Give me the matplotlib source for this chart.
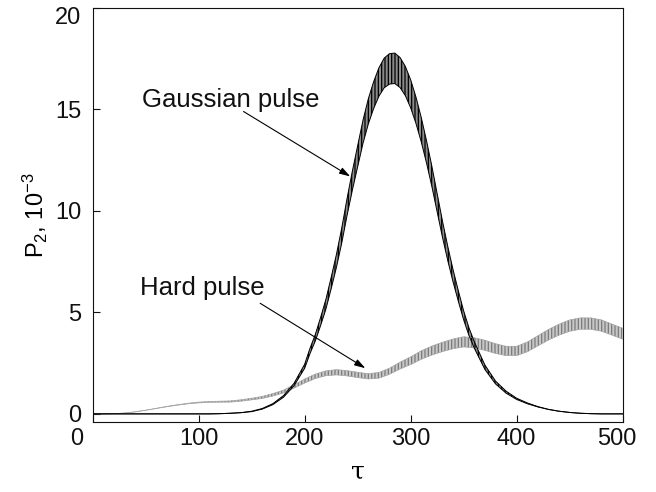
import numpy as np
import matplotlib
matplotlib.use("Agg")
import matplotlib.pyplot as plt
from matplotlib.transforms import ScaledTranslation

plt.rcParams['font.family'] = ['Liberation Sans', 'DejaVu Sans']
plt.rcParams['mathtext.fontset'] = 'custom'
plt.rcParams['mathtext.rm'] = 'Liberation Sans'
plt.rcParams['mathtext.it'] = 'Liberation Sans:italic'
plt.rcParams['mathtext.default'] = 'rm'
plt.rcParams['hatch.linewidth'] = 0.9

# Gaussian pulse: centre of the fast oscillation and its half swing (units of 1e-3)
gauss_tau = [0, 50, 100, 110, 120, 130, 140, 150, 160, 170, 180, 190,
             200, 205, 210, 215, 220, 225, 230, 235, 240, 245, 250, 255,
             260, 265, 270, 275, 280, 285, 290, 295, 300, 305, 310, 315,
             320, 325, 330, 335, 340, 345, 350, 355, 360,
             370, 380, 390, 400, 410, 420, 430, 440, 450, 460, 470, 480, 490, 500]
gauss_mean = [0, 0, 0, 0, 0.01, 0.03, 0.06, 0.12, 0.25, 0.48, 0.86, 1.45,
              2.35, 3.1, 3.75, 4.55, 5.4, 6.45, 7.55, 8.8, 10.2, 11.5, 12.7, 13.9,
              14.9, 15.7, 16.35, 16.8, 17.0, 17.03, 16.82, 16.4, 15.77, 14.96, 14.0, 12.9,
              11.7, 10.4, 9.1, 7.9, 6.8, 5.8, 4.85, 4.05, 3.4,
              2.3, 1.55, 1.07, 0.74, 0.52, 0.35, 0.22, 0.13, 0.07, 0.03, 0.01, 0, 0, 0]
gauss_swing = [0, 0, 0, 0, 0, 0, 0, 0.01, 0.015, 0.025, 0.04, 0.06,
               0.1, 0.13, 0.16, 0.2, 0.24, 0.28, 0.32, 0.37, 0.42, 0.47, 0.52, 0.57,
               0.62, 0.66, 0.7, 0.73, 0.75, 0.75, 0.74, 0.72, 0.69, 0.65, 0.6, 0.55,
               0.5, 0.45, 0.4, 0.35, 0.3, 0.26, 0.22, 0.19, 0.16,
               0.11, 0.07, 0.05, 0.03, 0.02, 0.01, 0, 0, 0, 0, 0, 0, 0, 0]

# Hard pulse
hard_tau = np.arange(0, 501, 10)
hard_mean = [0, 0, 0.01, 0.04, 0.1, 0.18, 0.27, 0.36, 0.44, 0.51,
             0.56, 0.59, 0.6, 0.61, 0.66, 0.73, 0.81, 0.94, 1.1, 1.35,
             1.62, 1.85, 2.0, 2.05, 2.0, 1.92, 1.85, 1.9, 2.1, 2.38,
             2.62, 2.9, 3.12, 3.3, 3.45, 3.55, 3.5, 3.38, 3.22, 3.1,
             3.1, 3.3, 3.6, 3.9, 4.15, 4.35, 4.45, 4.45, 4.35, 4.15, 3.95]
hard_swing = [0, 0, 0, 0, 0, 0, 0.005, 0.01, 0.012, 0.015,
              0.02, 0.02, 0.025, 0.03, 0.035, 0.04, 0.05, 0.06, 0.07, 0.08,
              0.1, 0.11, 0.12, 0.13, 0.13, 0.13, 0.13, 0.14, 0.15, 0.17,
              0.19, 0.21, 0.22, 0.23, 0.24, 0.25, 0.25, 0.25, 0.24, 0.23,
              0.23, 0.24, 0.25, 0.26, 0.27, 0.28, 0.28, 0.28, 0.28, 0.27, 0.27]

xticks = [0, 100, 200, 300, 400, 500]
yticks = [0, 5, 10, 15, 20]

fig = plt.figure(figsize=(6.56, 4.92), dpi=100)
ax = fig.add_axes([0.1413, 0.1423, 0.8079, 0.8414])


def draw_band(ax, tau, mean, swing, fill, stripe, edge, lw):
    # the fast oscillation is shown as a striped band between its extremes
    mean = np.asarray(mean, dtype=float)
    swing = np.asarray(swing, dtype=float)
    lo, hi = mean - swing, mean + swing
    ax.fill_between(tau, lo, hi, facecolor=fill, edgecolor=stripe,
                    hatch='|||||', lw=0)
    ax.plot(tau, lo, color=edge, lw=lw, solid_joinstyle='round')
    ax.plot(tau, hi, color=edge, lw=lw, solid_joinstyle='round')


draw_band(ax, hard_tau, hard_mean, hard_swing, '#c8c8c8', '#7a7a7a', '#a2a2a2', 0.5)
draw_band(ax, gauss_tau, gauss_mean, gauss_swing, '#8a8a8a', 'black', 'black', 0.7)

ax.set_xlim(0, 500)
ax.set_ylim(-0.4, 20)
ax.set_xticks(xticks)
ax.set_yticks(yticks)
ax.tick_params(direction='in', length=5, width=0.8, labelsize=17, colors='#111111')
ax.tick_params(axis='x', pad=4.5)
ax.tick_params(axis='y', pad=8)
for s in ax.spines.values():
    s.set_linewidth(0.8)
    s.set_color('#111111')

# nudge the corner labels so the two zeros do not collide
xl = ax.get_xticklabels()
xl[0].set_transform(xl[0].get_transform() + ScaledTranslation(-0.16, 0, fig.dpi_scale_trans))
xl[-1].set_transform(xl[-1].get_transform() + ScaledTranslation(-0.06, 0, fig.dpi_scale_trans))
yl = ax.get_yticklabels()
yl[-1].set_transform(yl[-1].get_transform() + ScaledTranslation(0, -0.07, fig.dpi_scale_trans))

ax.set_xlabel('τ', fontsize=18, family='DejaVu Serif')
ax.xaxis.set_label_coords(0.5, -0.092)
ax.set_ylabel('P$_2$, 10$^{-3}$', fontsize=17)
ax.yaxis.set_label_coords(-0.08, 0.5)

arrow = dict(arrowstyle='-|>,head_length=0.65,head_width=0.2', color='black',
             lw=0.8, shrinkA=0, shrinkB=0, mutation_scale=10)
ax.text(46.6, 15.1, 'Gaussian pulse', fontsize=18.5, ha='left', va='baseline', color='#111111')
ax.annotate('', xy=(243, 11.7), xytext=(142.3, 14.9), arrowprops=arrow)
ax.text(44.7, 5.86, 'Hard pulse', fontsize=18.5, ha='left', va='baseline', color='#111111')
ax.annotate('', xy=(257.2, 2.25), xytext=(158, 5.45), arrowprops=arrow)

fig.savefig('out.png', dpi=100)
